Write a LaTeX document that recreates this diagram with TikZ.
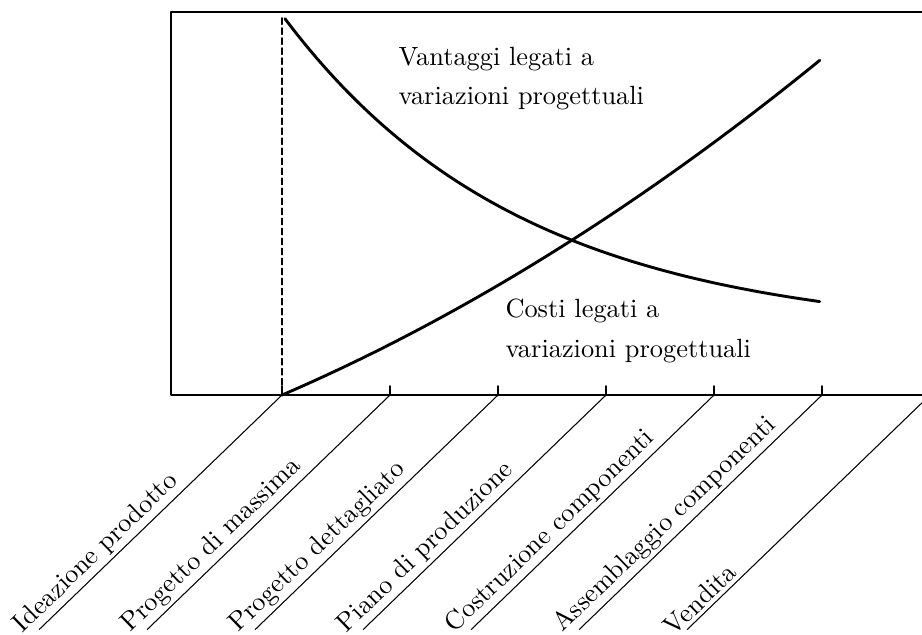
\documentclass[tikz,border=0pt]{standalone}
\begin{document}
\begin{tikzpicture}[line cap=round, line join=round, font=\normalsize]
	\tikzset{fase/.style={anchor=south west, rotate=44, inner sep=1.2pt},
		curva/.style={line width=1.1pt},
		nota/.style={anchor=base west, align=left, inner sep=0pt}}
	\clip (-3.76,-3.187) rectangle (8.533,5.267);
	\draw[line width=0.6pt] (9.5,0) -- (-1.48,0) -- (-1.48,5.107) -- (9.5,5.107);
	\draw[dash pattern=on 2.5pt off 1.3pt] (0,0) -- (0,5.05);
	\foreach \i/\testo in {0/Ideazione prodotto, 1/Progetto di massima, 2/Progetto dettagliato,
		3/Piano di produzione, 4/Costruzione componenti, 5/Assemblaggio componenti, 6/Vendita}{
		\coordinate (t\i) at (1.44*\i,0);
		\draw[line width=0.6pt] (t\i) -- ++(0,0.12);
		\draw (t\i) -- ++(224:4.5) coordinate (e\i);
		\path (t\i) ++(224:4.74) node[fase] (f\i) {\testo};
	}
	\draw[curva, smooth, samples=100] plot[domain=0.04:7.17] (\x, {0.8+4.27*exp(-0.315*\x)});
	\draw[curva, smooth, samples=100] plot[domain=0:7.17] (\x, {0.431*\x+0.0267*\x*\x});
	\node[nota] (vant) at (1.547,3.867) {Vantaggi legati a\\[3pt] variazioni progettuali};
	\node[nota] (costi) at (2.973,0.507) {Costi legati a\\[3pt] variazioni progettuali};
\end{tikzpicture}
\end{document}
